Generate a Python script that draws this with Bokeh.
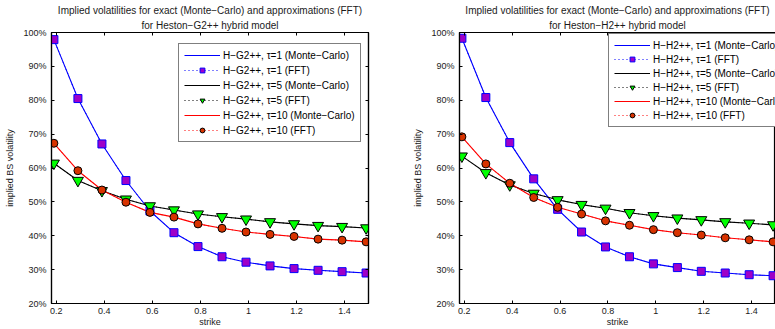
import math
from bokeh.plotting import figure
from bokeh.models import (Range1d, FixedTicker, LinearAxis, Legend, LegendItem, Title,
                          CustomJSTickFormatter, PrintfTickFormatter)
from bokeh.layouts import row
from bokeh.embed import file_html
from bokeh.resources import INLINE

# ---------------- data ----------------
strikes = [0.19, 0.29, 0.39, 0.49, 0.59, 0.69, 0.79, 0.89, 0.99, 1.09, 1.19, 1.29, 1.39, 1.49]

# Heston-G2++ (implied vol, %)
g2_t1_fft = [97.9, 80.5, 67.1, 56.3, 47.3, 40.9, 36.8, 33.8, 32.2, 31.1, 30.3, 29.8, 29.4, 29.0]
g2_t5_fft = [61.4, 56.3, 53.3, 50.8, 48.8, 47.6, 46.4, 45.6, 44.9, 44.1, 43.5, 43.0, 42.7, 42.3]
g2_t10_fft = [67.3, 59.2, 53.5, 49.9, 46.9, 45.5, 43.5, 42.2, 41.1, 40.4, 39.8, 39.0, 38.7, 38.2]
g2_t1_mc = [97.9, 80.5, 67.1, 56.3, 47.3, 40.9, 36.8, 33.8, 32.2, 31.1, 30.3, 29.8, 29.4, 29.0]
g2_t5_mc = [61.4, 56.3, 53.3, 50.8, 48.8, 47.6, 46.4, 45.6, 44.9, 44.1, 43.5, 43.0, 42.7, 42.3]
g2_t10_mc = [67.3, 59.2, 53.5, 49.9, 46.9, 45.5, 43.5, 42.2, 41.1, 40.4, 39.8, 39.0, 38.7, 38.2]

# Heston-H2++ (implied vol, %)
h2_t1_fft = [98.3, 80.8, 67.5, 56.8, 47.8, 41.1, 36.7, 33.8, 31.7, 30.6, 29.5, 29.0, 28.5, 28.2]
h2_t5_fft = [63.5, 58.6, 55.0, 52.5, 50.6, 49.2, 48.1, 46.8, 45.9, 45.2, 44.7, 44.1, 43.7, 43.2]
h2_t10_fft = [69.2, 61.2, 55.5, 51.3, 48.4, 46.4, 44.4, 43.1, 41.8, 40.9, 40.2, 39.4, 38.8, 38.2]
h2_t1_mc = [98.3, 80.8, 67.5, 56.8, 47.8, 41.1, 36.7, 33.8, 31.7, 30.6, 29.5, 29.0, 28.5, 28.2]
h2_t5_mc = [63.5, 58.6, 55.0, 52.5, 50.6, 49.2, 48.1, 46.8, 45.9, 45.2, 44.7, 44.1, 43.7, 43.2]
h2_t10_mc = [69.2, 61.2, 55.5, 51.3, 48.4, 46.4, 44.4, 43.1, 41.8, 40.9, 40.2, 39.4, 38.8, 38.2]

x_ticks = [0.2, 0.4, 0.6, 0.8, 1.0, 1.2, 1.4]
x_tick_labels = ["0.2", "0.4", "0.6", "0.8", "1", "1.2", "1.4"]
y_ticks = [20, 30, 40, 50, 60, 70, 80, 90, 100]
x_limits = [0.18, 1.5]
y_limits = [20, 100]

title_line1 = "Implied volatilities for exact (Monte\u2212Carlo) and approximations (FFT)"
titles_line2 = ["for Heston\u2212G2++ hybrid model", "for Heston\u2212H2++ hybrid model"]
model_names = ["H\u2212G2++", "H\u2212H2++"]
x_label = "strike"
y_label = "implied BS volatility"

FONT = "Liberation Sans"
FS = "9px"
BLUE = "#0000FF"
SQ_FILL = "#9E00C8"
TRI_FILL = "#00FF00"
CIR_FILL = "#D83300"
RED = "#FF0000"
TXT = "#1a1a1a"


def style_axis(ax, labels=True):
    ax.major_tick_in = 3
    ax.major_tick_out = 0
    ax.minor_tick_line_color = None
    ax.axis_line_color = "black"
    ax.axis_line_width = 1.2
    ax.major_tick_line_color = "black"
    ax.major_label_text_font = FONT
    ax.axis_label_text_font = FONT
    ax.axis_label_text_font_size = FS
    ax.axis_label_text_font_style = "normal"
    ax.axis_label_text_color = TXT
    if labels:
        ax.major_label_text_color = TXT
        ax.major_label_text_font_size = FS
    else:
        ax.major_label_text_color = None
        ax.major_label_text_font_size = "1px"
        ax.major_label_standoff = 0


def make_panel(k, t1_mc, t1_fft, t5_mc, t5_fft, t10_mc, t10_fft, width, min_left, min_right,
               right_ticks, legend_xy, legend_spacing, legend_fs):
    p = figure(width=width, height=329, output_backend="svg", toolbar_location=None,
               x_range=Range1d(*x_limits), y_range=Range1d(*y_limits),
               min_border_left=min_left, min_border_right=min_right,
               min_border_top=32, min_border_bottom=25,
               x_axis_location=None, y_axis_location=None)
    p.grid.visible = False
    p.outline_line_color = "black"
    p.outline_line_width = 1.2
    p.background_fill_color = "white"
    p.border_fill_color = "white"

    xfmt = CustomJSTickFormatter(args=dict(labels=x_tick_labels), code="return labels[index];")
    xb = LinearAxis(ticker=FixedTicker(ticks=x_ticks), formatter=xfmt, axis_label=x_label)
    style_axis(xb)
    xb.major_label_standoff = 4
    xb.axis_label_standoff = 0
    p.add_layout(xb, "below")
    yl = LinearAxis(ticker=FixedTicker(ticks=y_ticks), formatter=PrintfTickFormatter(format="%d%%"),
                    axis_label=y_label)
    style_axis(yl)
    yl.major_label_standoff = 5
    yl.axis_label_standoff = 5
    p.add_layout(yl, "left")

    xt = LinearAxis(ticker=FixedTicker(ticks=x_ticks), formatter=xfmt)
    style_axis(xt, labels=False)
    p.add_layout(xt, "above")
    if right_ticks:
        yr = LinearAxis(ticker=FixedTicker(ticks=y_ticks), formatter=PrintfTickFormatter(format="%d%%"))
        style_axis(yr, labels=False)
        p.add_layout(yr, "right")

    # Monte-Carlo lines
    l1 = p.line(strikes, t1_mc, line_color=BLUE, line_width=1.1)
    l5 = p.line(strikes, t5_mc, line_color="black", line_width=1.1)
    l10 = p.line(strikes, t10_mc, line_color=RED, line_width=1.1)
    # near-invisible companions so each Monte-Carlo legend row has a second glyph
    c1 = p.scatter(strikes, t1_mc, marker="dot", size=1, line_color=BLUE, fill_color=BLUE,
                   line_alpha=0.01, fill_alpha=0.01)
    c5 = p.scatter(strikes, t5_mc, marker="dot", size=1, line_color="black", fill_color="black",
                   line_alpha=0.01, fill_alpha=0.01)
    c10 = p.scatter(strikes, t10_mc, marker="dot", size=1, line_color=RED, fill_color=RED,
                    line_alpha=0.01, fill_alpha=0.01)
    # FFT dotted lines
    d1 = p.line(strikes, t1_fft, line_color=BLUE, line_width=1, line_dash="1 3")
    d5 = p.line(strikes, t5_fft, line_color="black", line_width=1, line_dash="1 3")
    d10 = p.line(strikes, t10_fft, line_color=RED, line_width=1, line_dash="1 3")
    # FFT markers
    s1 = p.scatter(strikes, t1_fft, marker="square", size=8, fill_color=SQ_FILL,
                   line_color=BLUE, line_width=1)
    s5 = p.scatter(strikes, t5_fft, marker="inverted_triangle", size=11, fill_color=TRI_FILL,
                   line_color="black", line_width=1)
    s10 = p.scatter(strikes, t10_fft, marker="circle", size=8, fill_color=CIR_FILL,
                    line_color="black", line_width=1)

    name = model_names[k]
    items = [
        LegendItem(label=f"{name}, \u03c4=1 (Monte\u2212Carlo)", renderers=[l1, c1]),
        LegendItem(label=f"{name}, \u03c4=1 (FFT)", renderers=[d1, s1]),
        LegendItem(label=f"{name}, \u03c4=5 (Monte\u2212Carlo)", renderers=[l5, c5]),
        LegendItem(label=f"{name}, \u03c4=5 (FFT)", renderers=[d5, s5]),
        LegendItem(label=f"{name}, \u03c4=10 (Monte\u2212Carlo)", renderers=[l10, c10]),
        LegendItem(label=f"{name}, \u03c4=10 (FFT)", renderers=[d10, s10]),
    ]
    leg = Legend(items=items, location=legend_xy, glyph_width=36, glyph_height=12,
                 label_height=12, spacing=legend_spacing, padding=5, margin=0,
                 label_standoff=3, label_text_font=FONT, label_text_font_size=legend_fs,
                 label_text_color="black", border_line_color="black", border_line_width=1,
                 background_fill_color="white", background_fill_alpha=1.0)
    p.add_layout(leg)

    p.add_layout(Title(text=titles_line2[k], align="center", text_font=FONT,
                       text_font_size="10px", text_font_style="normal", text_color=TXT,
                       standoff=4, offset=-2), "above")
    p.add_layout(Title(text=title_line1, align="center", text_font=FONT,
                       text_font_size="10px", text_font_style="normal", text_color=TXT,
                       standoff=0, offset=-2), "above")
    return p


p1 = make_panel(0, g2_t1_mc, g2_t1_fft, g2_t5_mc, g2_t5_fft, g2_t10_mc, g2_t10_fft,
                width=380, min_left=51, min_right=12, right_ticks=True,
                legend_xy=(127, 161), legend_spacing=3, legend_fs="10px")
p2 = make_panel(1, h2_t1_mc, h2_t1_fft, h2_t5_mc, h2_t5_fft, h2_t10_mc, h2_t10_fft,
                width=395, min_left=79, min_right=0, right_ticks=False,
                legend_xy=(149, 176), legend_spacing=2, legend_fs="10px")

layout = row(p1, p2)
open("out.html", "w").write(file_html(layout, INLINE))
